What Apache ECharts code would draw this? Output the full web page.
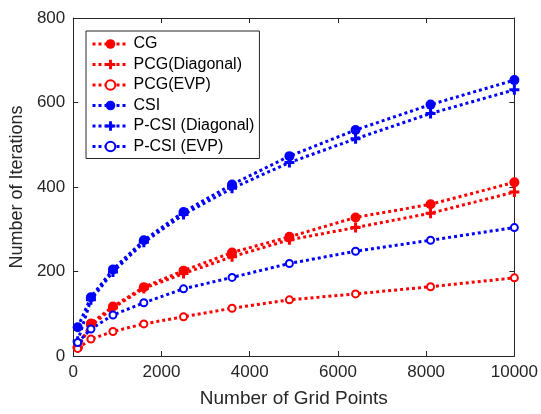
<!DOCTYPE html>
<html>
<head>
<meta charset="utf-8">
<script src="https://cdn.jsdelivr.net/npm/echarts@6/dist/echarts.min.js"></script>
<style>
html,body{margin:0;padding:0;background:#fff;}
#c{width:541px;height:414px;}
</style>
</head>
<body>
<div id="c"></div>
<script>
const gridPoints = [100, 400, 900, 1600, 2500, 3600, 4900, 6400, 8100, 10000];
const cg        = [20, 77, 117, 163, 202, 245, 282, 328, 359, 411];
const pcgDiag   = [20, 72, 114, 160, 195, 235, 275, 304, 338, 388];
const pcgEvp    = [18, 40, 58, 76, 93, 113, 133, 147, 164, 185];
const csi       = [68, 139, 205, 274, 341, 406, 473, 535, 595, 653];
const pcsiDiag  = [35, 133, 199, 269, 335, 397, 458, 514, 574, 630];
const pcsiEvp   = [32, 64, 97, 126, 159, 186, 219, 248, 274, 304];
const seriesNames = ['CG', 'PCG(Diagonal)', 'PCG(EVP)', 'CSI', 'P-CSI (Diagonal)', 'P-CSI (EVP)'];
const xTicks = [0, 2000, 4000, 6000, 8000, 10000];
const yTicks = [0, 200, 400, 600, 800];

const RED = '#ff0000', BLUE = '#0000ff', AX = '#262626';
const FONT = '"Liberation Sans", Arial, Helvetica, sans-serif';
const PLUS = 'path://M3.5,0h3v3.5h3.5v3h-3.5v3.5h-3v-3.5h-3.5v-3h3.5z';
const DASH = [3, 3];

function mk(name, vals, color, kind) {
  let symbol = 'circle', size = 10, itemStyle = {color: color};
  if (kind === 'plus') { symbol = PLUS; size = 10; }
  if (kind === 'open') { symbol = 'emptyCircle'; size = 7; itemStyle = {color: color, borderColor: color, borderWidth: 3}; }
  return {
    name: name, type: 'line',
    data: gridPoints.map((x, i) => [x, vals[i]]),
    symbol: symbol, symbolSize: size,
    showAllSymbol: true,
    itemStyle: itemStyle,
    lineStyle: {color: color, width: 3, type: DASH, cap: 'butt'},
    emphasis: {disabled: true},
    animation: false
  };
}

const chart = echarts.init(document.getElementById('c'), null, {renderer: 'canvas'});
function axisCommon() {
  return {
    axisLine: {show: true, onZero: false, lineStyle: {color: AX, width: 1}},
    axisTick: {show: true, inside: true, length: 5, lineStyle: {color: AX, width: 1}},
    splitLine: {show: false}
  };
}
const plain = v => String(v);
chart.setOption({
  animation: false,
  backgroundColor: '#fff',
  grid: {left: 71, right: 26, top: 18, bottom: 58, containLabel: false},
  xAxis: [
    Object.assign({
      type: 'value', min: xTicks[0], max: xTicks[xTicks.length - 1], interval: 2000, position: 'bottom',
      axisLabel: {color: AX, fontSize: 17, fontFamily: FONT, margin: 8, formatter: plain},
      name: 'Number of Grid Points', nameLocation: 'middle', nameGap: 33,
      nameTextStyle: {color: AX, fontSize: 19, fontFamily: FONT}
    }, axisCommon()),
    Object.assign({
      type: 'value', min: xTicks[0], max: xTicks[xTicks.length - 1], interval: 2000, position: 'top',
      axisLabel: {show: false}
    }, axisCommon())
  ],
  yAxis: [
    Object.assign({
      type: 'value', min: yTicks[0], max: yTicks[yTicks.length - 1], interval: 200, position: 'left',
      axisLabel: {color: AX, fontSize: 17, fontFamily: FONT, margin: 8, formatter: plain},
      name: 'Number of Iterations', nameLocation: 'middle', nameGap: 42,
      nameTextStyle: {color: AX, fontSize: 18, fontFamily: FONT}
    }, axisCommon()),
    Object.assign({
      type: 'value', min: yTicks[0], max: yTicks[yTicks.length - 1], interval: 200, position: 'right',
      axisLabel: {show: false}
    }, axisCommon())
  ],
  legend: {
    left: 86, top: 31, orient: 'vertical',
    padding: [5, 5, 4, 5],
    itemWidth: 36, itemHeight: 12, itemGap: 4.5,
    borderColor: AX, borderWidth: 1, backgroundColor: '#fff',
    textStyle: {color: '#000', fontSize: 16, fontFamily: FONT, lineHeight: 16},
    lineStyle: {width: 3, type: DASH, cap: 'butt'},
    selectedMode: false,
    data: seriesNames
  },
  series: [
    mk(seriesNames[0], cg, RED, 'filled'),
    mk(seriesNames[1], pcgDiag, RED, 'plus'),
    mk(seriesNames[2], pcgEvp, RED, 'open'),
    mk(seriesNames[3], csi, BLUE, 'filled'),
    mk(seriesNames[4], pcsiDiag, BLUE, 'plus'),
    mk(seriesNames[5], pcsiEvp, BLUE, 'open')
  ]
});
</script>
</body>
</html>
